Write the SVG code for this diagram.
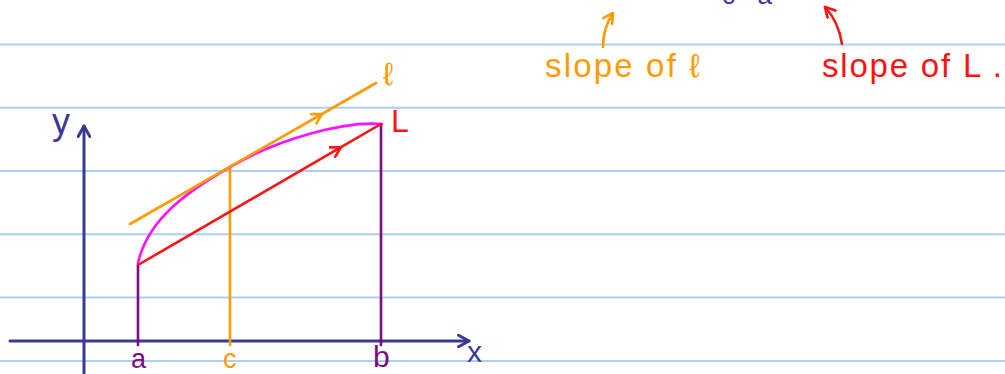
<svg xmlns="http://www.w3.org/2000/svg" width="1005" height="374" viewBox="0 0 1005 374">
  <style>
    .rule{stroke:#a9cff7;stroke-width:2}
    .ln{fill:none;stroke-linecap:round;stroke-linejoin:round}
    .axis{stroke:#3a3a96;stroke-width:3}
    .purple{stroke:#7e0a86;stroke-width:2.6}
    .orange{stroke:#ff9b00;stroke-width:2.6}
    .red{stroke:#ff1212;stroke-width:2.6}
    .mag{stroke:#ff10ff;stroke-width:2.6}
    text{font-family:"Liberation Sans","DejaVu Sans",sans-serif}
    .t-blue{fill:#3a3a96}
    .t-purple{fill:#7e0a86}
    .t-orange{fill:#ff9b00}
    .t-red{fill:#ff1212}
  </style>
  <defs>
    <marker id="ah-blue" viewBox="0 0 12 12" refX="10" refY="6" markerUnits="userSpaceOnUse" markerWidth="14" markerHeight="14" orient="auto">
      <path d="M1,1 L10,6 L1,11" fill="none" stroke="#3a3a96" stroke-width="2.5" stroke-linecap="round" stroke-linejoin="round"/>
    </marker>
    <marker id="ah-orange" viewBox="0 0 12 12" refX="10" refY="6" markerUnits="userSpaceOnUse" markerWidth="13" markerHeight="13" orient="auto">
      <path d="M1,1 L10,6 L1,11" fill="none" stroke="#ff9b00" stroke-width="2.4" stroke-linecap="round" stroke-linejoin="round"/>
    </marker>
    <marker id="ah-red" viewBox="0 0 12 12" refX="10" refY="6" markerUnits="userSpaceOnUse" markerWidth="13" markerHeight="13" orient="auto">
      <path d="M1,1 L10,6 L1,11" fill="none" stroke="#ff1212" stroke-width="2.4" stroke-linecap="round" stroke-linejoin="round"/>
    </marker>
  </defs>

  <rect width="1005" height="374" fill="#ffffff"/>

  <g id="ruled-lines">
    <line class="rule" x1="0" y1="44.5" x2="1005" y2="44.5"/>
    <line class="rule" x1="0" y1="107.8" x2="1005" y2="107.8"/>
    <line class="rule" x1="0" y1="171" x2="1005" y2="171"/>
    <line class="rule" x1="0" y1="234.3" x2="1005" y2="234.3"/>
    <line class="rule" x1="0" y1="297.6" x2="1005" y2="297.6"/>
    <line class="rule" x1="0" y1="361" x2="1005" y2="361"/>
  </g>

  <g id="connectors">
    <path id="y-axis" class="ln axis" d="M84,374 L84,126" marker-end="url(#ah-blue)"/>
    <path id="x-axis" class="ln axis" d="M10,341 L469,341" marker-end="url(#ah-blue)"/>
    <path id="line-a" class="ln purple" d="M138,265 L138,345"/>
    <path id="line-b" class="ln purple" d="M381,124 L381,345"/>
    <path id="line-c" class="ln orange" d="M230,167 L230,345"/>
    <path id="curve" class="ln mag" d="M138,263 C148,218 190,190 230,167 C280,138 345,121 382,124"/>
    <path id="tangent-l" class="ln orange" d="M130,224 L322,114 L376,83" marker-mid="url(#ah-orange)"/>
    <path id="secant-L" class="ln red" d="M138,265 L341,147.2 L381,124" marker-mid="url(#ah-red)"/>
    <path id="arrow-slope-l" class="ln orange" d="M603,47 C603,34 607,22 613,13" marker-end="url(#ah-orange)"/>
    <path id="arrow-slope-L" class="ln red" d="M842,44 C840,30 835,18 825,7" marker-end="url(#ah-red)"/>
  </g>

  <g id="label-y"><text class="t-blue" x="52" y="134" font-size="36">y</text></g>
  <g id="label-x"><text class="t-blue" x="467" y="362" font-size="30">x</text></g>
  <g id="label-a"><text class="t-purple" x="131" y="367.5" font-size="27">a</text></g>
  <g id="label-c"><text class="t-orange" x="223" y="367.5" font-size="27">c</text></g>
  <g id="label-b"><text class="t-purple" x="373" y="367" font-size="30">b</text></g>
  <g id="label-l"><text class="t-orange" x="383" y="85" font-size="32">ℓ</text></g>
  <g id="label-L"><text class="t-red" x="391" y="132" font-size="32">L</text></g>
  <g id="note-slope-l"><text class="t-orange" x="545" y="77" font-size="33" textLength="155" lengthAdjust="spacing">slope of ℓ</text></g>
  <g id="note-slope-L"><text class="t-red" x="822" y="77" font-size="33" textLength="180" lengthAdjust="spacing">slope of L .</text></g>
  <g id="top-cut-text"><text class="t-blue" x="722" y="4" font-size="26" textLength="50" lengthAdjust="spacing">c a</text></g>
</svg>
